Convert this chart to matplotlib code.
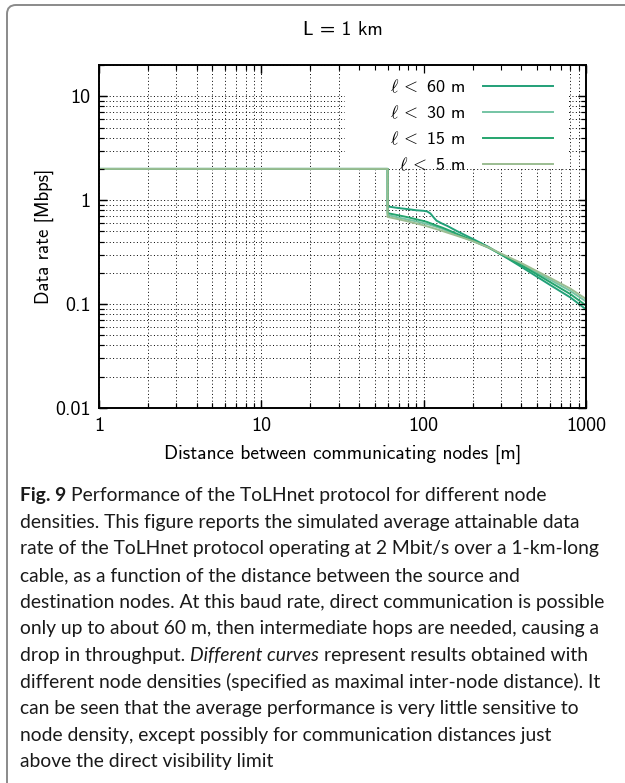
import numpy as np
import matplotlib.pyplot as plt
from matplotlib.patches import FancyBboxPatch, Rectangle
from matplotlib.lines import Line2D
from matplotlib.transforms import IdentityTransform
from matplotlib.ticker import LogLocator, NullFormatter

plt.rcParams['font.family'] = ['cmss10', 'DejaVu Sans']
plt.rcParams['mathtext.fontset'] = 'cm'
plt.rcParams['axes.unicode_minus'] = False

# Data
dist_direct = [1, 60]
rate_direct = [2.0, 2.0]
dist_hop = [60, 70, 80, 90, 100, 105, 110, 115, 120, 130, 140, 160, 200, 250, 300, 400, 500, 600, 800, 1000]
rate_l60 = [0.87, 0.84, 0.82, 0.80, 0.79, 0.78, 0.745, 0.685, 0.635, 0.595, 0.565, 0.505, 0.425, 0.356, 0.30, 0.228, 0.183, 0.153, 0.116, 0.089]
rate_l30 = [0.72, 0.68, 0.65, 0.625, 0.60, 0.59, 0.577, 0.565, 0.553, 0.53, 0.505, 0.465, 0.405, 0.35, 0.302, 0.242, 0.20, 0.172, 0.134, 0.106]
rate_l15 = [0.75, 0.715, 0.685, 0.655, 0.63, 0.617, 0.60, 0.585, 0.57, 0.545, 0.52, 0.475, 0.41, 0.352, 0.30, 0.236, 0.193, 0.163, 0.125, 0.097]
rate_l5 = [0.69, 0.655, 0.625, 0.597, 0.573, 0.56, 0.548, 0.537, 0.526, 0.506, 0.487, 0.455, 0.405, 0.352, 0.306, 0.248, 0.207, 0.179, 0.141, 0.112]

series = [rate_l60, rate_l30, rate_l15, rate_l5]
labels = [r'$\ell\,<$ 60 m', r'$\ell\,<$ 30 m', r'$\ell\,<$ 15 m', r'$\ell\,<$ 5 m']
colors = ['#22a078', '#74c4a4', '#25a56e', '#9bbd92']

x_major = [1, 10, 100, 1000]
x_labels = ['1', '10', '100', '1000']
y_major = [0.01, 0.1, 1, 10]
y_labels = ['0.01', '0.1', '1', '10']

W, H = 625, 783
fig = plt.figure(figsize=(W / 100, H / 100), dpi=100)

ax = fig.add_axes([99 / W, 1 - 408 / H, 487 / W, 343 / H])
ax.set_xscale('log')
ax.set_yscale('log')

for rates, col in zip(series, colors):
    ax.plot(np.concatenate([dist_direct, dist_hop]), np.concatenate([rate_direct, rates]),
            color=col, lw=1.4, zorder=2)

ax.set_xlim(1, 1000)
ax.set_ylim(0.01, 20)
ax.set_xticks(x_major)
ax.set_xticklabels(x_labels)
ax.set_yticks(y_major)
ax.set_yticklabels(y_labels)
ax.xaxis.set_minor_locator(LogLocator(base=10, subs=np.arange(2, 10)))
ax.yaxis.set_minor_locator(LogLocator(base=10, subs=np.arange(2, 10)))
ax.xaxis.set_minor_formatter(NullFormatter())
ax.yaxis.set_minor_formatter(NullFormatter())
ax.tick_params(which='both', direction='in', top=True, right=True, labelsize=14.5)
ax.tick_params(which='major', length=6, width=0.9)
ax.tick_params(which='minor', length=3.5, width=0.8)
ax.tick_params(axis='x', pad=6.5)
ax.tick_params(axis='y', pad=6)
ax.set_axisbelow(True)
ax.grid(True, which='both', color='black', linestyle=(0, (1, 2.5)), linewidth=0.7)
for s in ax.spines.values():
    s.set_linewidth(1.2)

ax.set_xlabel('Distance between communicating nodes [m]', fontsize=14, labelpad=7)
ax.set_ylabel('Data rate [Mbps]', fontsize=13.5, labelpad=0.5)

# white area behind the key, hides the grid
ax.add_patch(Rectangle((0.505, 0.703), 0.46, 0.3, transform=ax.transAxes,
                       facecolor='white', edgecolor='none', zorder=1))

handles = [Line2D([], [], color=c, lw=1.4) for c in colors]
ax.legend(handles, labels, loc='upper right', bbox_to_anchor=((553 - 99) / 487, (408 - 78) / 343),
          borderaxespad=0, borderpad=0, frameon=False, markerfirst=False,
          handlelength=3.9, handletextpad=0.95, labelspacing=0.47, fontsize=13)

# transparent copy on top so the ticks show over the key area
ax_top = fig.add_axes(ax.get_position(), sharex=ax, sharey=ax)
ax_top.patch.set_visible(False)
ax_top.tick_params(which='both', direction='in', top=True, right=True,
                   labelbottom=False, labelleft=False)
ax_top.tick_params(which='major', length=6, width=0.9)
ax_top.tick_params(which='minor', length=3.5, width=0.8)
for s in ax_top.spines.values():
    s.set_linewidth(1.2)

fig.text(342.5 / W, 1 - 30 / H, 'L = 1 km', ha='center', va='center', fontsize=14)

# rounded frame round the figure
fig.add_artist(FancyBboxPatch((7, -60), 700, 778 + 60, boxstyle='round,pad=0,rounding_size=9',
                              transform=IdentityTransform(), fill=False,
                              edgecolor='#8a8a8a', lw=1.4))

# caption
CAP_FONT = 'Lato'
CAP_SIZE = 13.85
caption = [
    [('Fig. 9', 'bold', 'normal'), ('Performance of the ToLHnet protocol for different node', 'normal', 'normal')],
    [('densities. This figure reports the simulated average attainable data', 'normal', 'normal')],
    [('rate of the ToLHnet protocol operating at 2 Mbit/s over a 1-km-long', 'normal', 'normal')],
    [('cable, as a function of the distance between the source and', 'normal', 'normal')],
    [('destination nodes. At this baud rate, direct communication is possible', 'normal', 'normal')],
    [('only up to about 60 m, then intermediate hops are needed, causing a', 'normal', 'normal')],
    [('drop in throughput.', 'normal', 'normal'), ('Different curves', 'normal', 'italic'),
     ('represent results obtained with', 'normal', 'normal')],
    [('different node densities (specified as maximal inter-node distance). It', 'normal', 'normal')],
    [('can be seen that the average performance is very little sensitive to', 'normal', 'normal')],
    [('node density, except possibly for communication distances just', 'normal', 'normal')],
    [('above the direct visibility limit', 'normal', 'normal')],
]

renderer = fig.canvas.get_renderer()


def text_width(s, **kw):
    t = fig.text(0, 0, s, fontsize=CAP_SIZE, family=CAP_FONT, **kw)
    w = t.get_window_extent(renderer).width
    t.remove()
    return w


space = text_width('x x') - text_width('xx')
y = 501
for line in caption:
    x = 20
    for i, (s, wt, st) in enumerate(line):
        if i > 0:
            x += space
        t = fig.text(x / W, 1 - y / H, s, fontsize=CAP_SIZE, family=CAP_FONT,
                     fontweight=wt, fontstyle=st, color='#1a1a1a', ha='left', va='baseline')
        x += t.get_window_extent(renderer).width
    y += 26.65

fig.savefig('out.png', dpi=100)
